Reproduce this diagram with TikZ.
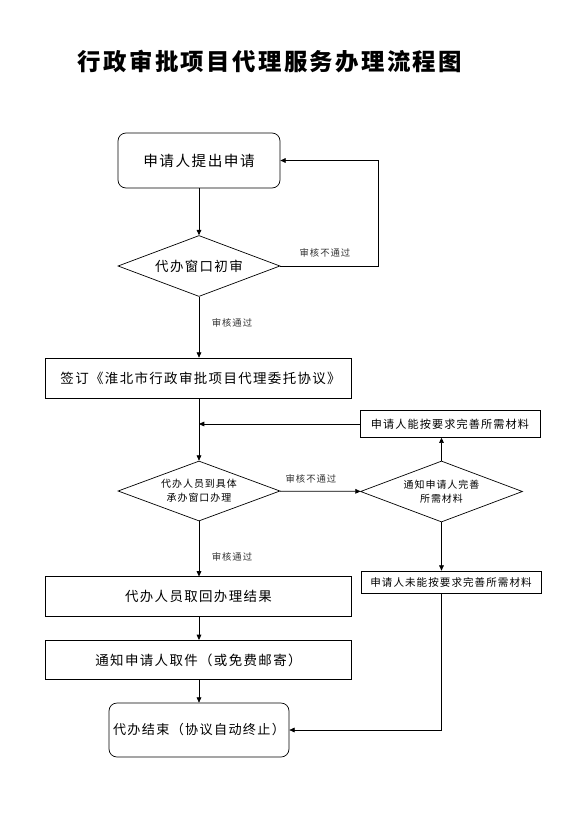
\documentclass[tikz,border=0pt]{standalone}
\usepackage{fontspec}
\setmainfont{Noto Sans CJK SC}[LetterSpace=10]
\usetikzlibrary{shapes.geometric, arrows.meta}

\begin{document}
\begin{tikzpicture}[x=0.03cm, y=-0.03cm, line width=0.6pt,
	>={Triangle[length=4.5pt,width=4pt]},
	proc/.style={draw, rectangle, minimum width=9.18cm, minimum height=1.18cm, inner sep=0pt, font=\fontsize{11.5}{13}\selectfont},
	term/.style={draw, rectangle, rounded corners=0.24cm, inner sep=0pt, font=\fontsize{11.2}{13}\selectfont},
	decide/.style={draw, diamond, aspect=2.6, minimum width=4.86cm, minimum height=1.83cm, inner sep=0pt, align=center},
	smallbox/.style={draw, rectangle, minimum width=5.4cm, inner sep=0pt, font=\fontsize{9}{11}\selectfont},
	note/.style={font=\fontsize{8}{9}\selectfont, text=black!80}]
	\useasboundingbox (0,0) rectangle (566,829);

\node[font=\bfseries\fontsize{20}{24}\selectfont] (title) at (270,62) {行政审批项目代理服务办理流程图};

\node[term, minimum width=4.86cm, minimum height=1.65cm, font=\fontsize{12.5}{14}\selectfont] (apply) at (199,160.5) {申请人提出申请};
\node[decide, font=\fontsize{11.5}{13}\selectfont] (check) at (199,266) {代办窗口初审};
\node[proc, inner xsep=0.45cm, text width=8.28cm, align=left, minimum height=1.2cm] (sign) at (198.5,378) {签订《淮北市行政审批项目代理委托协议》};
\node[smallbox, minimum height=0.8cm, font=\fontsize{9.5}{11}\selectfont] (fixok) at (450,424) {申请人能按要求完善所需材料};
\node[decide, minimum height=1.8cm, font=\fontsize{8.5}{12}\selectfont] (handle) at (199,491) {代办人员到具体\\承办窗口办理};
\node[decide, font=\fontsize{8.5}{12}\selectfont] (notify) at (441.5,491.5) {通知申请人完善\\所需材料};
\node[smallbox, minimum height=0.66cm] (fixno) at (451,582) {申请人未能按要求完善所需材料};
\node[proc] (fetch) at (198.5,596.5) {代办人员取回办理结果};
\node[proc] (inform) at (198.5,660) {通知申请人取件（或免费邮寄）};
\node[term, minimum width=5.4cm, minimum height=1.62cm] (done) at (199,730) {代办结束（协议自动终止）};

% labels on the connectors
\node[note] (fail1) at (325,253) {审核不通过};
\node[note] (pass1) at (232,323) {审核通过};
\node[note] (fail2) at (311,479) {审核不通过};
\node[note] (pass2) at (232,557) {审核通过};

\coordinate (back) at (378,160.5);

\draw[->] (apply) -- (check);
\draw[->] (check.east) -| (back) -- (apply.east);
\draw[->] (check) -- (check |- sign.north);
\draw[->] (sign.south -| check) -- (handle);
\draw[->] (fixok.west) -- (fixok.west -| handle.north);
\draw[->] (handle) -- (notify);
\draw[->] (notify.north) -- (notify.north |- fixok.south);
\draw[->] (notify.south) -- (notify.south |- fixno.north);
\draw[->] (handle) -- (handle |- fetch.north);
\draw[->] (fetch.south -| handle) -- (handle |- inform.north);
\draw[->] (inform.south -| handle) -- (done);
\draw[->] (notify.south |- fixno.south) |- (done.east);

\end{tikzpicture}
\end{document}
